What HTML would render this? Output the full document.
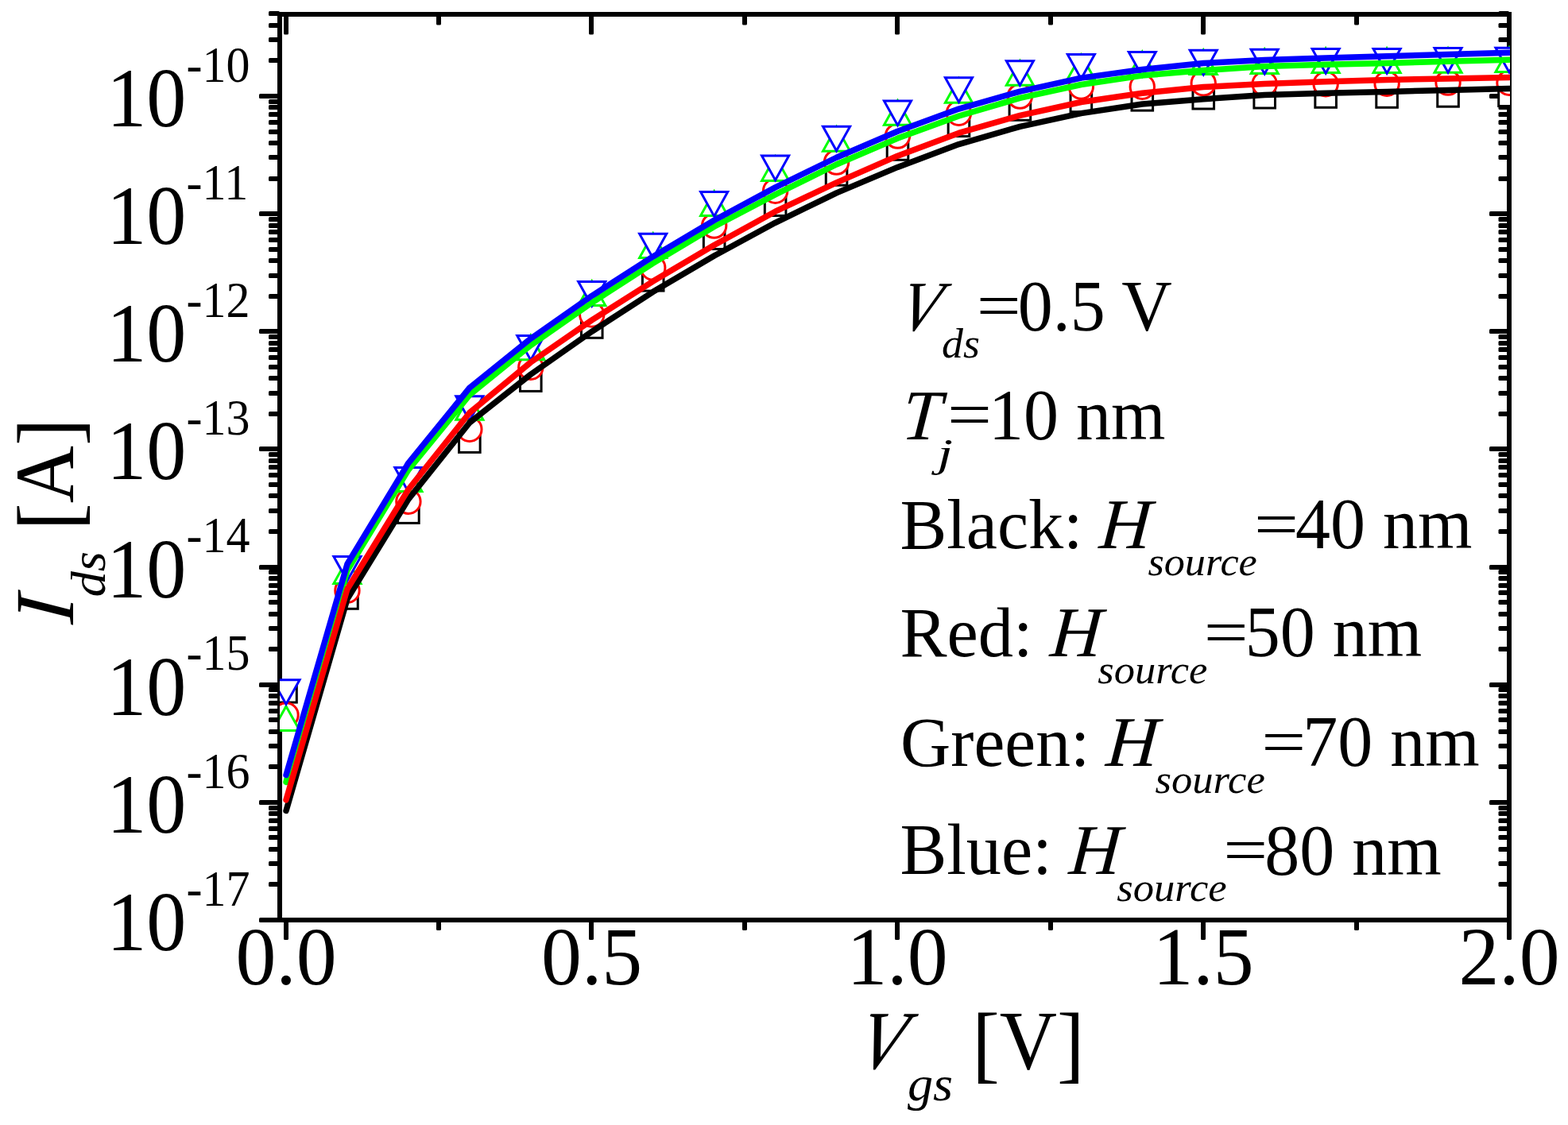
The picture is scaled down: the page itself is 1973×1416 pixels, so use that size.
<!DOCTYPE html>
<html lang="en"><head><meta charset="utf-8"><title>Ids-Vgs</title>
<style>html,body{margin:0;padding:0;background:#fff;}body{width:1973px;height:1416px;overflow:hidden;}svg{display:block;}text{font-family:"Liberation Serif","Times New Roman",serif;fill:#000;white-space:pre;}.i{font-style:italic;}</style>
</head><body>
<svg xmlns="http://www.w3.org/2000/svg" width="1973" height="1416" viewBox="0 0 1973 1416">
<rect x="0" y="0" width="1973" height="1416" fill="#fff"/>
<defs><clipPath id="cp"><rect x="352" y="0" width="1548" height="1416"/></clipPath></defs>
<g id="axes" fill="#000" stroke="none">
<rect x="349" y="15" width="1553" height="6"/>
<rect x="349" y="1155" width="1553" height="6"/>
<rect x="349" y="15" width="6" height="1146"/>
<rect x="1896" y="15" width="6" height="1146"/>
<rect x="326" y="1155" width="26" height="6" rx="1.6"/>
<rect x="1874" y="1155" width="25" height="6" rx="1.6"/>
<rect x="338" y="1110" width="14" height="6" rx="1.6"/>
<rect x="1885.5" y="1110" width="13.5" height="6" rx="1.6"/>
<rect x="338" y="1084" width="14" height="6" rx="1.6"/>
<rect x="1885.5" y="1084" width="13.5" height="6" rx="1.6"/>
<rect x="338" y="1066" width="14" height="6" rx="1.6"/>
<rect x="1885.5" y="1066" width="13.5" height="6" rx="1.6"/>
<rect x="338" y="1051" width="14" height="6" rx="1.6"/>
<rect x="1885.5" y="1051" width="13.5" height="6" rx="1.6"/>
<rect x="338" y="1040" width="14" height="6" rx="1.6"/>
<rect x="1885.5" y="1040" width="13.5" height="6" rx="1.6"/>
<rect x="338" y="1030" width="14" height="6" rx="1.6"/>
<rect x="1885.5" y="1030" width="13.5" height="6" rx="1.6"/>
<rect x="338" y="1021" width="14" height="6" rx="1.6"/>
<rect x="1885.5" y="1021" width="13.5" height="6" rx="1.6"/>
<rect x="338" y="1014" width="14" height="6" rx="1.6"/>
<rect x="1885.5" y="1014" width="13.5" height="6" rx="1.6"/>
<rect x="326" y="1007" width="26" height="6" rx="1.6"/>
<rect x="1874" y="1007" width="25" height="6" rx="1.6"/>
<rect x="338" y="962" width="14" height="6" rx="1.6"/>
<rect x="1885.5" y="962" width="13.5" height="6" rx="1.6"/>
<rect x="338" y="936" width="14" height="6" rx="1.6"/>
<rect x="1885.5" y="936" width="13.5" height="6" rx="1.6"/>
<rect x="338" y="918" width="14" height="6" rx="1.6"/>
<rect x="1885.5" y="918" width="13.5" height="6" rx="1.6"/>
<rect x="338" y="903" width="14" height="6" rx="1.6"/>
<rect x="1885.5" y="903" width="13.5" height="6" rx="1.6"/>
<rect x="338" y="892" width="14" height="6" rx="1.6"/>
<rect x="1885.5" y="892" width="13.5" height="6" rx="1.6"/>
<rect x="338" y="882" width="14" height="6" rx="1.6"/>
<rect x="1885.5" y="882" width="13.5" height="6" rx="1.6"/>
<rect x="338" y="873" width="14" height="6" rx="1.6"/>
<rect x="1885.5" y="873" width="13.5" height="6" rx="1.6"/>
<rect x="338" y="865" width="14" height="6" rx="1.6"/>
<rect x="1885.5" y="865" width="13.5" height="6" rx="1.6"/>
<rect x="326" y="859" width="26" height="6" rx="1.6"/>
<rect x="1874" y="859" width="25" height="6" rx="1.6"/>
<rect x="338" y="814" width="14" height="6" rx="1.6"/>
<rect x="1885.5" y="814" width="13.5" height="6" rx="1.6"/>
<rect x="338" y="788" width="14" height="6" rx="1.6"/>
<rect x="1885.5" y="788" width="13.5" height="6" rx="1.6"/>
<rect x="338" y="770" width="14" height="6" rx="1.6"/>
<rect x="1885.5" y="770" width="13.5" height="6" rx="1.6"/>
<rect x="338" y="755" width="14" height="6" rx="1.6"/>
<rect x="1885.5" y="755" width="13.5" height="6" rx="1.6"/>
<rect x="338" y="743" width="14" height="6" rx="1.6"/>
<rect x="1885.5" y="743" width="13.5" height="6" rx="1.6"/>
<rect x="338" y="734" width="14" height="6" rx="1.6"/>
<rect x="1885.5" y="734" width="13.5" height="6" rx="1.6"/>
<rect x="338" y="725" width="14" height="6" rx="1.6"/>
<rect x="1885.5" y="725" width="13.5" height="6" rx="1.6"/>
<rect x="338" y="717" width="14" height="6" rx="1.6"/>
<rect x="1885.5" y="717" width="13.5" height="6" rx="1.6"/>
<rect x="326" y="711" width="26" height="6" rx="1.6"/>
<rect x="1874" y="711" width="25" height="6" rx="1.6"/>
<rect x="338" y="666" width="14" height="6" rx="1.6"/>
<rect x="1885.5" y="666" width="13.5" height="6" rx="1.6"/>
<rect x="338" y="640" width="14" height="6" rx="1.6"/>
<rect x="1885.5" y="640" width="13.5" height="6" rx="1.6"/>
<rect x="338" y="621" width="14" height="6" rx="1.6"/>
<rect x="1885.5" y="621" width="13.5" height="6" rx="1.6"/>
<rect x="338" y="607" width="14" height="6" rx="1.6"/>
<rect x="1885.5" y="607" width="13.5" height="6" rx="1.6"/>
<rect x="338" y="595" width="14" height="6" rx="1.6"/>
<rect x="1885.5" y="595" width="13.5" height="6" rx="1.6"/>
<rect x="338" y="585" width="14" height="6" rx="1.6"/>
<rect x="1885.5" y="585" width="13.5" height="6" rx="1.6"/>
<rect x="338" y="577" width="14" height="6" rx="1.6"/>
<rect x="1885.5" y="577" width="13.5" height="6" rx="1.6"/>
<rect x="338" y="569" width="14" height="6" rx="1.6"/>
<rect x="1885.5" y="569" width="13.5" height="6" rx="1.6"/>
<rect x="326" y="562" width="26" height="6" rx="1.6"/>
<rect x="1874" y="562" width="25" height="6" rx="1.6"/>
<rect x="338" y="518" width="14" height="6" rx="1.6"/>
<rect x="1885.5" y="518" width="13.5" height="6" rx="1.6"/>
<rect x="338" y="492" width="14" height="6" rx="1.6"/>
<rect x="1885.5" y="492" width="13.5" height="6" rx="1.6"/>
<rect x="338" y="473" width="14" height="6" rx="1.6"/>
<rect x="1885.5" y="473" width="13.5" height="6" rx="1.6"/>
<rect x="338" y="459" width="14" height="6" rx="1.6"/>
<rect x="1885.5" y="459" width="13.5" height="6" rx="1.6"/>
<rect x="338" y="447" width="14" height="6" rx="1.6"/>
<rect x="1885.5" y="447" width="13.5" height="6" rx="1.6"/>
<rect x="338" y="437" width="14" height="6" rx="1.6"/>
<rect x="1885.5" y="437" width="13.5" height="6" rx="1.6"/>
<rect x="338" y="429" width="14" height="6" rx="1.6"/>
<rect x="1885.5" y="429" width="13.5" height="6" rx="1.6"/>
<rect x="338" y="421" width="14" height="6" rx="1.6"/>
<rect x="1885.5" y="421" width="13.5" height="6" rx="1.6"/>
<rect x="326" y="414" width="26" height="6" rx="1.6"/>
<rect x="1874" y="414" width="25" height="6" rx="1.6"/>
<rect x="338" y="370" width="14" height="6" rx="1.6"/>
<rect x="1885.5" y="370" width="13.5" height="6" rx="1.6"/>
<rect x="338" y="344" width="14" height="6" rx="1.6"/>
<rect x="1885.5" y="344" width="13.5" height="6" rx="1.6"/>
<rect x="338" y="325" width="14" height="6" rx="1.6"/>
<rect x="1885.5" y="325" width="13.5" height="6" rx="1.6"/>
<rect x="338" y="311" width="14" height="6" rx="1.6"/>
<rect x="1885.5" y="311" width="13.5" height="6" rx="1.6"/>
<rect x="338" y="299" width="14" height="6" rx="1.6"/>
<rect x="1885.5" y="299" width="13.5" height="6" rx="1.6"/>
<rect x="338" y="289" width="14" height="6" rx="1.6"/>
<rect x="1885.5" y="289" width="13.5" height="6" rx="1.6"/>
<rect x="338" y="281" width="14" height="6" rx="1.6"/>
<rect x="1885.5" y="281" width="13.5" height="6" rx="1.6"/>
<rect x="338" y="273" width="14" height="6" rx="1.6"/>
<rect x="1885.5" y="273" width="13.5" height="6" rx="1.6"/>
<rect x="326" y="266" width="26" height="6" rx="1.6"/>
<rect x="1874" y="266" width="25" height="6" rx="1.6"/>
<rect x="338" y="222" width="14" height="6" rx="1.6"/>
<rect x="1885.5" y="222" width="13.5" height="6" rx="1.6"/>
<rect x="338" y="195" width="14" height="6" rx="1.6"/>
<rect x="1885.5" y="195" width="13.5" height="6" rx="1.6"/>
<rect x="338" y="177" width="14" height="6" rx="1.6"/>
<rect x="1885.5" y="177" width="13.5" height="6" rx="1.6"/>
<rect x="338" y="163" width="14" height="6" rx="1.6"/>
<rect x="1885.5" y="163" width="13.5" height="6" rx="1.6"/>
<rect x="338" y="151" width="14" height="6" rx="1.6"/>
<rect x="1885.5" y="151" width="13.5" height="6" rx="1.6"/>
<rect x="338" y="141" width="14" height="6" rx="1.6"/>
<rect x="1885.5" y="141" width="13.5" height="6" rx="1.6"/>
<rect x="338" y="132" width="14" height="6" rx="1.6"/>
<rect x="1885.5" y="132" width="13.5" height="6" rx="1.6"/>
<rect x="338" y="125" width="14" height="6" rx="1.6"/>
<rect x="1885.5" y="125" width="13.5" height="6" rx="1.6"/>
<rect x="326" y="118" width="26" height="6" rx="1.6"/>
<rect x="1874" y="118" width="25" height="6" rx="1.6"/>
<rect x="338" y="73" width="14" height="6" rx="1.6"/>
<rect x="1885.5" y="73" width="13.5" height="6" rx="1.6"/>
<rect x="338" y="47" width="14" height="6" rx="1.6"/>
<rect x="1885.5" y="47" width="13.5" height="6" rx="1.6"/>
<rect x="338" y="29" width="14" height="6" rx="1.6"/>
<rect x="1885.5" y="29" width="13.5" height="6" rx="1.6"/>
<rect x="338" y="14" width="14" height="6" rx="1.6"/>
<rect x="1885.5" y="14" width="13.5" height="6" rx="1.6"/>
<rect x="357" y="18" width="6" height="25.5" rx="1.6"/>
<rect x="357" y="1158" width="6" height="25" rx="1.6"/>
<rect x="549" y="18" width="6" height="13.5" rx="1.6"/>
<rect x="549" y="1158" width="6" height="13" rx="1.6"/>
<rect x="741" y="18" width="6" height="25.5" rx="1.6"/>
<rect x="741" y="1158" width="6" height="25" rx="1.6"/>
<rect x="934" y="18" width="6" height="13.5" rx="1.6"/>
<rect x="934" y="1158" width="6" height="13" rx="1.6"/>
<rect x="1126" y="18" width="6" height="25.5" rx="1.6"/>
<rect x="1126" y="1158" width="6" height="25" rx="1.6"/>
<rect x="1319" y="18" width="6" height="13.5" rx="1.6"/>
<rect x="1319" y="1158" width="6" height="13" rx="1.6"/>
<rect x="1511" y="18" width="6" height="25.5" rx="1.6"/>
<rect x="1511" y="1158" width="6" height="25" rx="1.6"/>
<rect x="1704" y="18" width="6" height="13.5" rx="1.6"/>
<rect x="1704" y="1158" width="6" height="13" rx="1.6"/>
<rect x="1896" y="18" width="6" height="25.5" rx="1.6"/>
<rect x="1896" y="1158" width="6" height="25" rx="1.6"/>
</g>
<g id="data" clip-path="url(#cp)" fill="#fff">
<g stroke="#000" stroke-width="3">
<rect x="346.70" y="857.50" width="26.6" height="26.6"/>
<rect x="423.65" y="739.70" width="26.6" height="26.6"/>
<rect x="500.60" y="631.80" width="26.6" height="26.6"/>
<rect x="577.55" y="542.80" width="26.6" height="26.6"/>
<rect x="654.50" y="465.80" width="26.6" height="26.6"/>
<rect x="731.45" y="398.70" width="26.6" height="26.6"/>
<rect x="808.40" y="339.50" width="26.6" height="26.6"/>
<rect x="885.35" y="286.90" width="26.6" height="26.6"/>
<rect x="962.30" y="244.90" width="26.6" height="26.6"/>
<rect x="1039.25" y="206.60" width="26.6" height="26.6"/>
<rect x="1116.20" y="174.70" width="26.6" height="26.6"/>
<rect x="1193.15" y="145.00" width="26.6" height="26.6"/>
<rect x="1270.10" y="124.70" width="26.6" height="26.6"/>
<rect x="1347.05" y="114.10" width="26.6" height="26.6"/>
<rect x="1424.00" y="112.50" width="26.6" height="26.6"/>
<rect x="1500.95" y="110.40" width="26.6" height="26.6"/>
<rect x="1577.90" y="109.40" width="26.6" height="26.6"/>
<rect x="1654.85" y="108.70" width="26.6" height="26.6"/>
<rect x="1731.80" y="108.70" width="26.6" height="26.6"/>
<rect x="1808.75" y="107.60" width="26.6" height="26.6"/>
<rect x="1885.70" y="106.90" width="26.6" height="26.6"/>
</g>
<g stroke="#f00" stroke-width="3">
<circle cx="360.00" cy="900.00" r="15.2"/>
<circle cx="436.95" cy="743.20" r="15.2"/>
<circle cx="513.90" cy="631.20" r="15.2"/>
<circle cx="590.85" cy="540.30" r="15.2"/>
<circle cx="667.80" cy="462.20" r="15.2"/>
<circle cx="744.75" cy="396.00" r="15.2"/>
<circle cx="821.70" cy="337.00" r="15.2"/>
<circle cx="898.65" cy="284.10" r="15.2"/>
<circle cx="975.60" cy="240.20" r="15.2"/>
<circle cx="1052.55" cy="204.15" r="15.2"/>
<circle cx="1129.50" cy="171.10" r="15.2"/>
<circle cx="1206.45" cy="142.25" r="15.2"/>
<circle cx="1283.40" cy="121.10" r="15.2"/>
<circle cx="1360.35" cy="109.00" r="15.2"/>
<circle cx="1437.30" cy="109.20" r="15.2"/>
<circle cx="1514.25" cy="104.80" r="15.2"/>
<circle cx="1591.20" cy="105.50" r="15.2"/>
<circle cx="1668.15" cy="105.80" r="15.2"/>
<circle cx="1745.10" cy="105.20" r="15.2"/>
<circle cx="1822.05" cy="104.10" r="15.2"/>
<circle cx="1899.00" cy="104.30" r="15.2"/>
</g>
<path stroke="#0f0" stroke-width="3" stroke-linejoin="miter" d="M360.00 888.95L377.05 919.60L342.95 919.60ZM436.95 703.75L454.00 734.40L419.90 734.40ZM513.90 587.85L530.95 618.50L496.85 618.50ZM590.85 497.55L607.90 528.20L573.80 528.20ZM667.80 422.05L684.85 452.70L650.75 452.70ZM744.75 353.95L761.80 384.60L727.70 384.60ZM821.70 293.85L838.75 324.50L804.65 324.50ZM898.65 240.75L915.70 271.40L881.60 271.40ZM975.60 196.75L992.65 227.40L958.55 227.40ZM1052.55 159.60L1069.60 190.25L1035.50 190.25ZM1129.50 126.55L1146.55 157.20L1112.45 157.20ZM1206.45 98.55L1223.50 129.20L1189.40 129.20ZM1283.40 76.55L1300.45 107.20L1266.35 107.20ZM1360.35 68.90L1377.40 99.55L1343.30 99.55ZM1437.30 65.15L1454.35 95.80L1420.25 95.80ZM1514.25 62.95L1531.30 93.60L1497.20 93.60ZM1591.20 61.85L1608.25 92.50L1574.15 92.50ZM1668.15 60.95L1685.20 91.60L1651.10 91.60ZM1745.10 60.95L1762.15 91.60L1728.05 91.60ZM1822.05 60.65L1839.10 91.30L1805.00 91.30ZM1899.00 59.85L1916.05 90.50L1881.95 90.50Z"/>
<path stroke="#00f" stroke-width="3" stroke-linejoin="miter" d="M360.00 886.35L377.05 855.70L342.95 855.70ZM436.95 731.05L454.00 700.40L419.90 700.40ZM513.90 619.15L530.95 588.50L496.85 588.50ZM590.85 529.35L607.90 498.70L573.80 498.70ZM667.80 453.15L684.85 422.50L650.75 422.50ZM744.75 385.05L761.80 354.40L727.70 354.40ZM821.70 324.95L838.75 294.30L804.65 294.30ZM898.65 272.25L915.70 241.60L881.60 241.60ZM975.60 226.75L992.65 196.10L958.55 196.10ZM1052.55 189.85L1069.60 159.20L1035.50 159.20ZM1129.50 157.65L1146.55 127.00L1112.45 127.00ZM1206.45 128.50L1223.50 97.85L1189.40 97.85ZM1283.40 107.35L1300.45 76.70L1266.35 76.70ZM1360.35 99.15L1377.40 68.50L1343.30 68.50ZM1437.30 96.15L1454.35 65.50L1420.25 65.50ZM1514.25 93.95L1531.30 63.30L1497.20 63.30ZM1591.20 92.95L1608.25 62.30L1574.15 62.30ZM1668.15 92.25L1685.20 61.60L1651.10 61.60ZM1745.10 92.15L1762.15 61.50L1728.05 61.50ZM1822.05 91.15L1839.10 60.50L1805.00 60.50ZM1899.00 90.95L1916.05 60.30L1881.95 60.30Z"/>
<polyline fill="none" stroke="#000" stroke-width="7.5" stroke-linejoin="round" stroke-linecap="round" points="360.00,1020.50 436.95,754.00 513.90,628.40 590.85,532.00 667.80,471.20 744.75,417.30 821.70,367.30 898.65,322.00 975.60,280.30 1052.55,242.90 1129.50,210.40 1206.45,181.60 1283.40,159.30 1360.35,142.60 1437.30,131.00 1514.25,124.70 1591.20,119.40 1668.15,117.20 1745.10,115.50 1822.05,113.40 1899.00,111.50"/>
<polyline fill="none" stroke="#0f0" stroke-width="7.5" stroke-linejoin="round" stroke-linecap="round" points="360.00,984.40 436.95,718.00 513.90,591.30 590.85,497.20 667.80,434.70 744.75,381.00 821.70,331.40 898.65,285.20 975.60,244.90 1052.55,207.00 1129.50,174.10 1206.45,146.00 1283.40,123.40 1360.35,106.50 1437.30,95.10 1514.25,88.60 1591.20,83.50 1668.15,81.20 1745.10,79.40 1822.05,77.20 1899.00,75.20"/>
<polyline fill="none" stroke="#f00" stroke-width="7.5" stroke-linejoin="round" stroke-linecap="round" points="360.00,1006.80 436.95,741.50 513.90,616.00 590.85,519.50 667.80,456.00 744.75,402.90 821.70,354.10 898.65,308.50 975.60,266.20 1052.55,229.90 1129.50,196.15 1206.45,167.40 1283.40,145.45 1360.35,128.50 1437.30,117.30 1514.25,109.50 1591.20,105.50 1668.15,102.80 1745.10,100.60 1822.05,98.90 1899.00,97.40"/>
<polyline fill="none" stroke="#00f" stroke-width="7.5" stroke-linejoin="round" stroke-linecap="round" points="360.00,975.50 436.95,710.00 513.90,582.80 590.85,488.20 667.80,426.20 744.75,372.30 821.70,322.90 898.65,277.30 975.60,235.85 1052.55,198.25 1129.50,165.20 1206.45,137.10 1283.40,115.10 1360.35,98.10 1437.30,87.50 1514.25,79.50 1591.20,75.60 1668.15,72.90 1745.10,70.70 1822.05,68.40 1899.00,66.30"/>
</g>
<g id="labels">
<text font-size="100" transform="translate(134.20 159.00) scale(1.0000 1.0580)">10</text>
<text font-size="60" transform="translate(234.60 102.70) scale(1.0000 1.0420)">-10</text>
<text font-size="100" transform="translate(134.20 307.14) scale(1.0000 1.0580)">10</text>
<text font-size="60" transform="translate(234.60 250.84) scale(1.0000 1.0420)">-11</text>
<text font-size="100" transform="translate(134.20 455.28) scale(1.0000 1.0580)">10</text>
<text font-size="60" transform="translate(234.60 398.98) scale(1.0000 1.0420)">-12</text>
<text font-size="100" transform="translate(134.20 603.42) scale(1.0000 1.0580)">10</text>
<text font-size="60" transform="translate(234.60 547.12) scale(1.0000 1.0420)">-13</text>
<text font-size="100" transform="translate(134.20 751.56) scale(1.0000 1.0580)">10</text>
<text font-size="60" transform="translate(234.60 695.26) scale(1.0000 1.0420)">-14</text>
<text font-size="100" transform="translate(134.20 899.70) scale(1.0000 1.0580)">10</text>
<text font-size="60" transform="translate(234.60 843.40) scale(1.0000 1.0420)">-15</text>
<text font-size="100" transform="translate(134.20 1047.84) scale(1.0000 1.0580)">10</text>
<text font-size="60" transform="translate(234.60 991.54) scale(1.0000 1.0420)">-16</text>
<text font-size="100" transform="translate(134.20 1195.98) scale(1.0000 1.0580)">10</text>
<text font-size="60" transform="translate(234.60 1139.68) scale(1.0000 1.0420)">-17</text>
<text font-size="100" transform="translate(296.40 1239.40) scale(1.0180 1.0440)">0.0</text>
<text font-size="100" transform="translate(681.00 1239.40) scale(1.0180 1.0440)">0.5</text>
<text font-size="100" transform="translate(1065.40 1239.40) scale(1.0180 1.0440)">1.0</text>
<text font-size="100" transform="translate(1450.40 1239.40) scale(1.0180 1.0440)">1.5</text>
<text font-size="100" transform="translate(1835.40 1239.40) scale(1.0180 1.0440)">2.0</text>
<text class="i" font-size="105" transform="translate(1075.33 1344.50) scale(0.8852 0.9990) skewX(-14)">V</text>
<text class="i" font-size="65" transform="translate(1142.00 1385.30) scale(0.9883 0.9420)">gs</text>
<text font-size="100" transform="translate(1223.20 1344.60) scale(1.0000 1.0480)"><tspan font-size="103.8" dy="5.53">[</tspan><tspan dy="-5.53">V</tspan><tspan font-size="103.8" dy="5.53">]</tspan></text>
<text class="i" font-size="105" transform="translate(0.00 786.80) rotate(-90) translate(0.50 92.10) scale(0.9933 1.0070) skewX(-4.5)">I</text>
<text class="i" font-size="65" transform="translate(0.00 786.80) rotate(-90) translate(35.31 131.60) scale(0.9953 0.9430)">ds</text>
<text font-size="100" transform="translate(0.00 786.80) rotate(-90) translate(119.20 92.10) scale(1.0000 1.0600)"><tspan font-size="103" dy="5.28">[</tspan><tspan dy="-5.28">A</tspan><tspan font-size="103" dy="5.28">]</tspan></text>
<text class="i" font-size="88" transform="translate(1128.06 415.80) scale(0.9155 1.0220) skewX(-14)">V</text>
<text class="i" font-size="54.6" transform="translate(1185.08 450.00) scale(0.9844 0.9790)">ds</text>
<text font-size="88" transform="translate(1228.82 411.30) scale(1.1288 0.8800)">=</text>
<text font-size="88" transform="translate(1280.83 415.90) scale(1.0000 1.0240)">0.5 V</text>
<text class="i" font-size="88" transform="translate(1133.39 552.80) scale(1.0020 1.0180) skewX(-4.5)">T</text>
<text class="i" font-size="54.6" transform="translate(1179.47 587.30) scale(1.2821 0.9190)">j</text>
<text font-size="88" transform="translate(1191.92 548.40) scale(1.1288 0.8800)">=</text>
<text font-size="88" transform="translate(1243.93 553.00) scale(1.0000 1.0300)">10 nm</text>
<text font-size="88" transform="translate(1132.50 689.90) scale(1.0018 1.0220)">Black:</text>
<text class="i" font-size="88" transform="translate(1382.02 689.90) scale(1.0151 1.0200) skewX(-4.5)">H</text>
<text class="i" font-size="54.6" transform="translate(1444.38 724.10) scale(0.9576 0.9150)">source</text>
<text font-size="88" transform="translate(1577.92 685.60) scale(1.1288 0.8800)">=</text>
<text font-size="88" transform="translate(1629.93 690.20) scale(1.0000 1.0300)">40 nm</text>
<text font-size="88" transform="translate(1132.49 826.10) scale(1.0058 1.0220)">Red:</text>
<text class="i" font-size="88" transform="translate(1320.31 826.10) scale(1.0110 1.0200) skewX(-4.5)">H</text>
<text class="i" font-size="54.6" transform="translate(1381.28 860.30) scale(0.9618 0.9150)">source</text>
<text font-size="88" transform="translate(1514.82 821.80) scale(1.1288 0.8800)">=</text>
<text font-size="88" transform="translate(1566.83 826.40) scale(1.0000 1.0300)">50 nm</text>
<text font-size="88" transform="translate(1133.02 963.80) scale(0.9954 1.0220)">Green:</text>
<text class="i" font-size="88" transform="translate(1390.62 963.80) scale(1.0219 1.0200) skewX(-4.5)">H</text>
<text class="i" font-size="54.6" transform="translate(1453.48 998.00) scale(0.9633 0.9150)">source</text>
<text font-size="88" transform="translate(1587.22 959.50) scale(1.1288 0.8800)">=</text>
<text font-size="88" transform="translate(1639.23 964.10) scale(1.0000 1.0300)">70 nm</text>
<text font-size="88" transform="translate(1132.49 1100.20) scale(1.0028 1.0220)">Blue:</text>
<text class="i" font-size="88" transform="translate(1344.01 1100.20) scale(1.0137 1.0200) skewX(-4.5)">H</text>
<text class="i" font-size="54.6" transform="translate(1405.28 1134.40) scale(0.9640 0.9150)">source</text>
<text font-size="88" transform="translate(1539.32 1095.90) scale(1.1288 0.8800)">=</text>
<text font-size="88" transform="translate(1591.33 1100.50) scale(1.0000 1.0300)">80 nm</text>
</g>
</svg></body></html>
